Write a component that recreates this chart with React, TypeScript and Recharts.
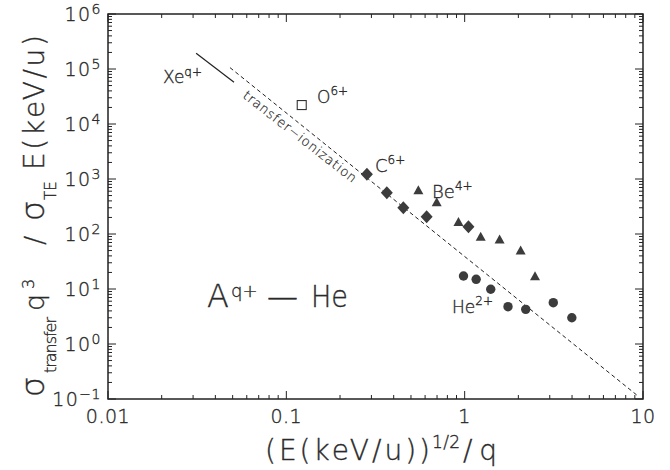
import React from 'react';
import { ScatterChart, Scatter, XAxis, YAxis, Customized } from 'recharts';

// ---- axis ticks ----
const xMajorTicks = [0.01, 0.1, 1, 10];
const xTickLabels = ['0.01', '0.1', '1', '10'];
const yMajorTicks = [0.1, 1, 10, 100, 1000, 10000, 100000, 1000000];
const yTickExponents = ['\u22121', '0', '1', '2', '3', '4', '5', '6'];
const minorMultipliers = [2, 3, 4, 5, 6, 7, 8, 9];

// ---- series ----
const xeLineX = [0.0312, 0.0509];
const xeLineY = [193000, 57300];
const tiLineX = [0.0483, 9.23];
const tiLineY = [106000, 0.118];
const o6X = [0.122];
const o6Y = [22100];
const c6X = [0.283, 0.366, 0.453, 0.612, 1.05];
const c6Y = [1220, 564, 301, 206, 136];
const be4X = [0.55, 0.697, 0.923, 1.23, 1.57, 2.06, 2.48];
const be4Y = [612, 371, 161, 87, 78, 49, 16.7];
const he2X = [0.985, 1.16, 1.4, 1.75, 2.2, 3.14, 3.99];
const he2Y = [17.2, 15.0, 9.9, 4.77, 4.27, 5.64, 3.0];

const pts = (xs: number[], ys: number[]) => xs.map((x, i) => ({ x, y: ys[i] }));
const withMinors = (majors: number[]) => {
  const out: number[] = [...majors];
  for (let i = 0; i < majors.length - 1; i++) minorMultipliers.forEach((m) => out.push(majors[i] * m));
  return out.sort((a, b) => a - b);
};
const xTicks = withMinors(xMajorTicks);
const yTicks = withMinors(yMajorTicks);
const majorIndex = (majors: number[], v: number) => majors.findIndex((t) => Math.abs(t - v) / t < 1e-9);

// ---- layout ----
const W = 670;
const H = 470;
const PL = 108;
const PR = 643;
const PT = 14;
const PB = 399;
const FONT = '"DejaVu Sans", "Liberation Sans", sans-serif';
const TXT = '#2a2a2a';
const LINE = '#222';
const MARK = '#3c3c3c';
const MAJ = 8;
const MIN = 4;
const TS = 0.35;

const XTick = (props: any) => {
  const { x, payload } = props;
  const idx = majorIndex(xMajorTicks, payload.value);
  const len = idx >= 0 ? MAJ : MIN;
  return (
    <g>
      <line x1={x} x2={x} y1={PB} y2={PB - len} stroke={LINE} strokeWidth={1} />
      <line x1={x} x2={x} y1={PT} y2={PT + len} stroke={LINE} strokeWidth={1} />
      {idx >= 0 && (
        <text x={x} y={PB + 24} textAnchor="middle" fontFamily={FONT} fontSize={19} fill={TXT} stroke={TXT} strokeWidth={TS} fontWeight={300} letterSpacing={0.5}>
          {xTickLabels[idx]}
        </text>
      )}
    </g>
  );
};

const YTick = (props: any) => {
  const { y, payload } = props;
  const idx = majorIndex(yMajorTicks, payload.value);
  const len = idx >= 0 ? MAJ : MIN;
  return (
    <g>
      <line x1={PL} x2={PL + len} y1={y} y2={y} stroke={LINE} strokeWidth={1} />
      <line x1={PR} x2={PR - len} y1={y} y2={y} stroke={LINE} strokeWidth={1} />
      {idx >= 0 && (
        <text x={101} y={y + 7} textAnchor="end" fontFamily={FONT} fontSize={19} fill={TXT} stroke={TXT} strokeWidth={TS} fontWeight={300} letterSpacing={1.5}>
          10
          <tspan fontSize={14} dy={-7} letterSpacing={0.5}>{yTickExponents[idx]}</tspan>
        </text>
      )}
    </g>
  );
};

const Diamond = (p: any) => (
  <path d={`M${p.cx},${p.cy - 6.5}L${p.cx + 6},${p.cy}L${p.cx},${p.cy + 6.5}L${p.cx - 6},${p.cy}Z`} fill={MARK} />
);
const Triangle = (p: any) => (
  <path d={`M${p.cx},${p.cy - 5.5}L${p.cx + 5},${p.cy + 3.5}L${p.cx - 5},${p.cy + 3.5}Z`} fill={MARK} />
);
const Dot = (p: any) => <circle cx={p.cx} cy={p.cy} r={4.7} fill={MARK} />;
const Square = (p: any) => (
  <rect x={p.cx - 4.5} y={p.cy - 4.5} width={9} height={9} fill="#fff" stroke="#333" strokeWidth={1.1} />
);
const NoMark = () => <g />;

const rot = (x: number, y: number, a: number) => `translate(${x},${y}) rotate(${a})`;

const Overlay = () => (
  <g fontFamily={FONT} fill={TXT} stroke={TXT} strokeWidth={TS} fontWeight={300}>
    <rect x={PL} y={PT} width={PR - PL} height={PB - PT} fill="none" stroke={LINE} strokeWidth={1.5} />

    {/* x-axis title */}
    <text x={265} y={460} fontSize={28} textLength={165} lengthAdjust="spacing">(E(keV/u))</text>
    <text x={432} y={448} fontSize={17} textLength={28} lengthAdjust="spacing">1/2</text>
    <text x={463} y={460} fontSize={28} textLength={34} lengthAdjust="spacing">/q</text>

    {/* y-axis title */}
    <text transform={rot(44, 397, -90)} fontSize={32}>σ</text>
    <text transform={rot(56, 373, -90)} fontSize={16} textLength={56} lengthAdjust="spacing">transfer</text>
    <text transform={rot(44, 311, -90)} fontSize={27}>q</text>
    <text transform={rot(34, 289, -90)} fontSize={16}>3</text>
    <text transform={rot(44, 245, -90)} fontSize={27}>/</text>
    <text transform={rot(44, 221, -90)} fontSize={32}>σ</text>
    <text transform={rot(56, 200, -90)} fontSize={15}>TE</text>
    <text transform={rot(44, 170, -90)} fontSize={28} textLength={135} lengthAdjust="spacing">E(keV/u)</text>

    {/* A^q+ — He */}
    <text x={207} y={307} fontSize={32}>A</text>
    <text x={231} y={297} fontSize={18}>q+</text>
    <text x={267} y={307} fontSize={31}>—</text>
    <text x={311} y={307} fontSize={31} textLength={37} lengthAdjust="spacingAndGlyphs">He</text>

    {/* ion labels */}
    <text x={163} y={83} fontSize={17}>Xe<tspan fontSize={12} dy={-7}>q+</tspan></text>
    <text x={317} y={103} fontSize={17}>O<tspan fontSize={12} dy={-8}>6+</tspan></text>
    <text x={375} y={172} fontSize={18}>C<tspan fontSize={12} dy={-8}>6+</tspan></text>
    <text x={432} y={198} fontSize={18}>Be<tspan fontSize={12} dy={-8}>4+</tspan></text>
    <text x={452} y={313} fontSize={17}>He<tspan fontSize={12} dy={-8}>2+</tspan></text>

    <text transform={rot(242, 97, 38)} fontSize={13} strokeWidth={0.2} textLength={140} lengthAdjust="spacing">transfer−ionization</text>
  </g>
);

export default function App() {
  return (
    <div style={{ position: 'absolute', left: 0, top: 0, width: W, height: H, background: '#fff' }}>
      <ScatterChart width={W} height={H} margin={{ top: PT, right: W - PR, bottom: H - PB - 1, left: PL - 1 }}>
        <XAxis
          xAxisId="b"
          dataKey="x"
          type="number"
          scale="log"
          domain={[0.01, 10]}
          allowDataOverflow
          ticks={xTicks}
          interval={0}
          tick={(p: any) => <XTick {...p} />}
          tickSize={0}
          tickMargin={0}
          tickLine={false}
          axisLine={false}
          height={1}
        />
        <YAxis
          yAxisId="l"
          dataKey="y"
          type="number"
          scale="log"
          domain={[0.1, 1000000]}
          allowDataOverflow
          ticks={yTicks}
          interval={0}
          tick={(p: any) => <YTick {...p} />}
          tickSize={0}
          tickMargin={0}
          tickLine={false}
          axisLine={false}
          width={1}
        />
        <Scatter xAxisId="b" yAxisId="l" data={pts(tiLineX, tiLineY)} line={{ stroke: LINE, strokeWidth: 1, strokeDasharray: '4 3' }} shape={NoMark} isAnimationActive={false} />
        <Scatter xAxisId="b" yAxisId="l" data={pts(xeLineX, xeLineY)} line={{ stroke: LINE, strokeWidth: 1.2 }} shape={NoMark} isAnimationActive={false} />
        <Scatter xAxisId="b" yAxisId="l" data={pts(o6X, o6Y)} shape={Square} isAnimationActive={false} />
        <Scatter xAxisId="b" yAxisId="l" data={pts(c6X, c6Y)} shape={Diamond} isAnimationActive={false} />
        <Scatter xAxisId="b" yAxisId="l" data={pts(be4X, be4Y)} shape={Triangle} isAnimationActive={false} />
        <Scatter xAxisId="b" yAxisId="l" data={pts(he2X, he2Y)} shape={Dot} isAnimationActive={false} />
        <Customized component={Overlay} />
      </ScatterChart>
    </div>
  );
}
